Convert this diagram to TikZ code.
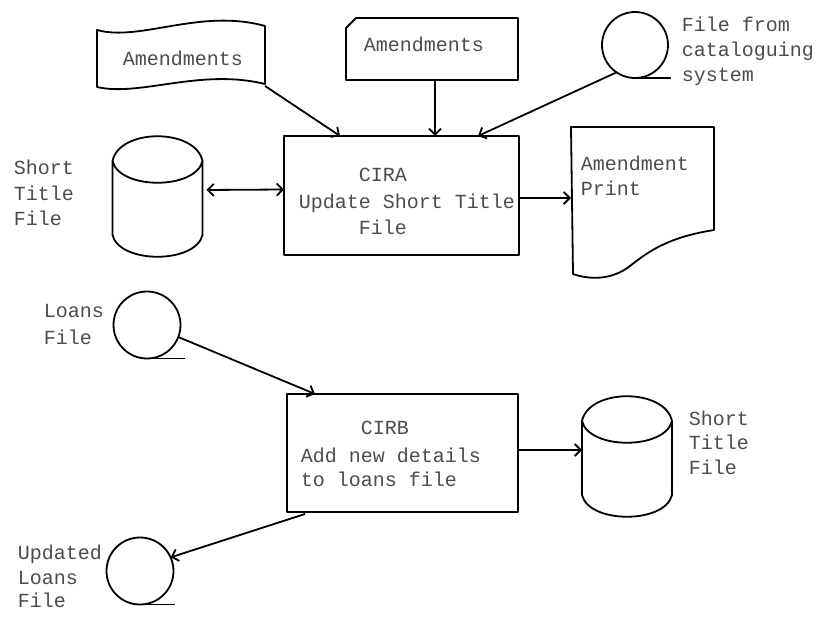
\documentclass[tikz,border=0pt]{standalone}
\usepackage{fontspec}
\newfontfamily\dm{Liberation Mono}
\usetikzlibrary{arrows.meta,calc}
\begin{document}
\begin{tikzpicture}[x=1pt,y=-1pt,line width=1.8pt,line join=round,
  lbl/.style={font=\dm\fontsize{20}{25}\selectfont,text=black!70,inner sep=0pt,anchor=base west,align=left},
  frame/.style={inner sep=0pt,outer sep=0pt},
  proc/.style={draw,inner sep=0pt,outer sep=0pt},
  tape/.style={draw,circle,minimum size=66pt,inner sep=0pt,outer sep=0pt},
  arr/.style={-{Straight Barb[length=6pt,width=12pt]}},
  arrr/.style={{Straight Barb[length=6pt,width=12pt]}-{Straight Barb[length=6pt,width=12pt]}},
  cyl/.pic={\draw (-45,-35) -- (-45,39) .. controls +(7,29) and +(-7,29) .. (45,39) -- (45,-35)
              .. controls +(-7,-33) and +(7,-33) .. (-45,-35)
              .. controls +(7,29) and +(-7,29) .. (45,-35);}]
\useasboundingbox (0,0) rectangle (823,617);

% ---------- upper part ----------
% punched tape "Amendments"
\node[frame,minimum width=168pt,minimum height=58pt] (am1f) at (181,57) {};
\draw (97,30) .. controls (140,42) and (200,8) .. (265,26) -- (265,84)
      .. controls (200,68) and (140,97) .. (97,87) -- cycle;
\node[lbl] (am1) at (122,66) {Amendments};

% card "Amendments"
\node[frame,minimum width=172pt,minimum height=62pt] (am2f) at (432,49) {};
\draw (346,28) -- (356,18) -- (518,18) -- (518,80) -- (346,80) -- cycle;
\node[lbl] (am2) at (363,52) {Amendments};

% tape file from cataloguing
\node[tape] (cat) at (635,45) {};
\draw (cat.south) -- ++(36,0);
\node[lbl] (catt) at (681,82) {File from\\cataloguing\\system};

% process CIRA
\node[proc,minimum width=235pt,minimum height=119pt] (cira) at (401.5,195.5) {};
\node[lbl] (cirat) at (298,235) {\phantom{xxxxx}CIRA\\[2pt]Update Short Title\\[1pt]\phantom{xxxxx}File};

% disk Short Title File (left)
\pic at (157.5,196) {cyl};
\node[frame,minimum width=90pt,minimum height=122pt] (stf1) at (157.5,196) {};
\node[lbl] (stf1t) at (13,226) {Short\\[1pt]Title\\File};

% document Amendment Print
\node[frame,minimum width=143pt,minimum height=150pt] (doc) at (642.5,202) {};
\draw (571,127) -- (714,127) -- (714,230) .. controls (670,237) and (650,250) .. (630,266)
      .. controls (612,280) and (590,280) .. (573,274) -- cycle;
\node[lbl] (doct) at (580,196) {Amendment\\Print};

% connectors upper
\draw[arr] (am1f.south east) -- ($(cira.north)+(-61.5,0)$);
\draw[arr] ($(am2f.south)+(3,0)$) -- ($(cira.north)+(33.5,0)$);
\draw[arr] (cat.236) -- ($(cira.north)+(76.5,0)$);
\draw[arrr] ($(stf1.east)+(4,-6)$) -- ($(cira.west)+(0,-6)$);
\draw[arr] ($(cira.east)+(0,2.5)$) -- ($(doc.west)+(0,-4)$);

% ---------- lower part ----------
\node[tape,minimum size=67pt] (loans) at (147,325) {};
\draw (loans.south) -- ++(38,0);
\node[lbl] (loanst) at (43,345) {Loans\\[2pt]File};

\node[proc,minimum width=231pt,minimum height=118pt] (cirb) at (402.5,453) {};
\node[lbl] (cirbt) at (300,487) {\phantom{xxxxx}CIRB\\[3pt]Add new details\\[-1pt]to loans file};

\pic at (627,456) {cyl};
\node[frame,minimum width=90pt,minimum height=122pt] (stf2) at (627,456) {};
\node[lbl] (stf2t) at (688,475) {Short\\[-1pt]Title\\File};

\node[tape,minimum size=67pt] (upd) at (140,571) {};
\draw (upd.south) -- ++(35,0);
\node[lbl] (updt) at (17,608) {Updated\\Loans\\[-2pt]File};

% connectors lower
\draw[arr] (loans.-21) -- ($(cirb.north west)+(28,0)$);
\draw[arr] ($(cirb.east)+(0,-3)$) -- ($(stf2.west)+(0,-6)$);
\draw[arr] ($(cirb.south west)+(18,2)$) -- (upd.24);
\end{tikzpicture}
\end{document}
